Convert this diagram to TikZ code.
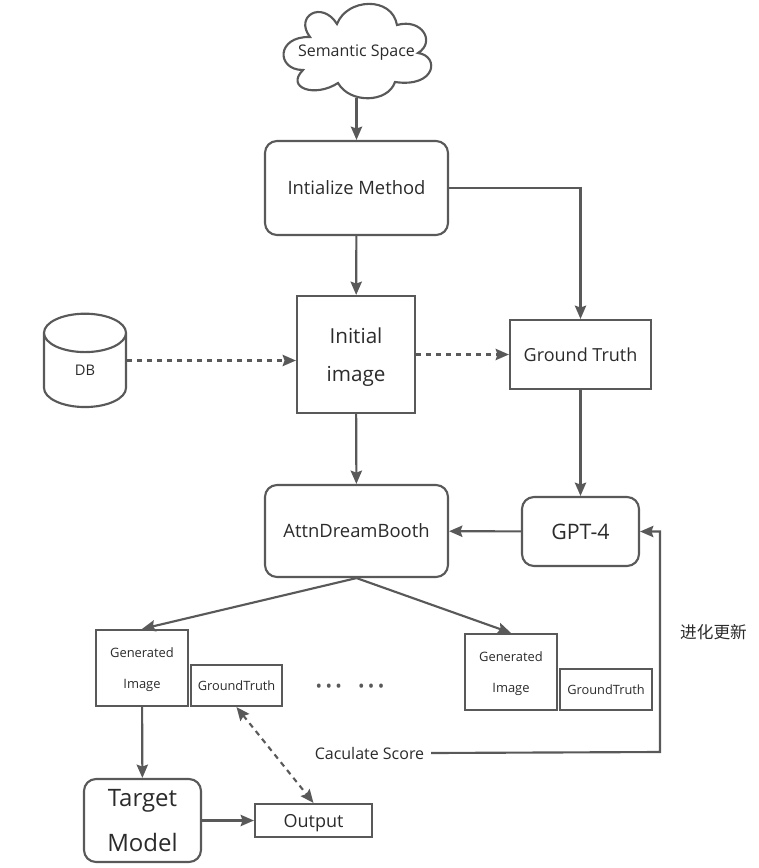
\documentclass[tikz,border=0pt]{standalone}
\usepackage{fontspec}
\setmainfont{Open Sans}
\newfontfamily\cjkfont{Noto Sans CJK SC}
\usetikzlibrary{arrows.meta,shapes.geometric}
\definecolor{linegray}{HTML}{595959}
\definecolor{textgray}{HTML}{2B2B2B}
\newcommand{\threedots}{\textbullet\hspace{2.6pt}\textbullet\hspace{2.6pt}\textbullet}
\tikzset{
  box/.style={draw=linegray,line width=1.6pt,inner sep=0pt,align=center,text=textgray,text depth=0pt},
  roundbox/.style={box,rounded corners=9pt},
  arrow/.style={draw=linegray,line width=1.6pt,-{Stealth[length=10pt,width=8.5pt,inset=1.5pt]}},
  dasharrow/.style={arrow,dash pattern=on 4pt off 3.5pt},
  bigtext/.style={font=\fontsize{13.8pt}{16pt}\selectfont},
  smalltext/.style={font=\fontsize{9.7pt}{23pt}\selectfont},
  midtext/.style={font=\fontsize{9.6pt}{12pt}\selectfont}
}
\begin{document}
\begin{tikzpicture}[x=0.75pt,y=-0.75pt]
  \useasboundingbox (0,0) rectangle (759,868);
  % cloud outline, its label sits in a plain node
  \draw[draw=linegray,line width=1.6pt] (337,24)
    .. controls (347,-2) and (392,-4) .. (397,25)
    .. controls (422,18) and (436,42) .. (418,53)
    .. controls (440,56) and (436,88) .. (395,82)
    .. controls (388,103) and (350,104) .. (338,83)
    .. controls (315,98) and (285,88) .. (303,70)
    .. controls (276,70) and (276,36) .. (310,37)
    .. controls (294,16) and (322,0) .. (337,24) -- cycle;
  \node[inner sep=0pt,text=textgray,text depth=0pt,font=\fontsize{12pt}{14pt}\selectfont,minimum width=111.75pt,minimum height=71.25pt] (space) at (356.5,50.5) {Semantic Space};
  % top of the flow
  \node[roundbox,bigtext,minimum width=137.25pt,minimum height=70.5pt] (method) at (356.5,188) {Intialize Method};
  \node[box,font=\fontsize{15.5pt}{29pt}\selectfont,minimum width=88.5pt,minimum height=87.75pt] (init) at (356,354.5) {Initial\\image};
  \node[box,font=\fontsize{13.5pt}{16pt}\selectfont,minimum width=105.75pt,minimum height=51.75pt] (gt) at (580.5,354.5) {Ground Truth};
  \node[cylinder,shape border rotate=90,aspect=1.9,box,font=\fontsize{11pt}{13pt}\selectfont,minimum width=61.5pt,minimum height=70pt] (db) at (85,370.5) {DB};
  % middle
  \node[roundbox,bigtext,minimum width=137.25pt,minimum height=69pt] (attn) at (356.5,531) {AttnDreamBooth};
  \node[roundbox,font=\fontsize{16pt}{19pt}\selectfont,minimum width=87.75pt,minimum height=51.75pt] (gpt) at (580.5,531.5) {GPT-4};
  % samples
  \node[box,smalltext,minimum width=69pt,minimum height=57pt] (genA) at (142,668) {Generated\\Image};
  \node[box,midtext,minimum width=68.25pt,minimum height=30.75pt] (truthA) at (236.5,685.5) {GroundTruth};
  \node[box,smalltext,minimum width=69pt,minimum height=57pt] (genB) at (511,672) {Generated\\Image};
  \node[box,midtext,minimum width=69pt,minimum height=30.75pt] (truthB) at (606,689.5) {GroundTruth};
  \node[text=linegray,inner sep=0pt,font=\fontsize{13pt}{15pt}\selectfont] (dots) at (350,688) {\threedots\hspace{12pt}\threedots};
  % bottom
  \node[roundbox,font=\fontsize{18pt}{33.5pt}\selectfont,minimum width=87.75pt,minimum height=62.25pt] (target) at (142.5,820.5) {Target\\Model};
  \node[box,font=\fontsize{13.5pt}{16pt}\selectfont,minimum width=87.75pt,minimum height=24.75pt] (output) at (313.5,820.5) {Output};
  \node[text=textgray,inner sep=0pt,font=\fontsize{12pt}{14pt}\selectfont] (score) at (369.5,753) {Caculate Score};
  \node[text=textgray,inner sep=0pt,font=\cjkfont\fontsize{12.5pt}{15pt}\selectfont] (update) at (713.5,632) {进化更新};
  \coordinate (turn) at (660,752);

  \draw[arrow] (space) -- (method);
  \draw[arrow] (method) -- (init);
  \draw[arrow] (method.east) -| (gt.north);
  \draw[dasharrow] ([yshift=7.5pt]db.east) -- ([yshift=7.5pt]db.east -| init.west);
  \draw[dasharrow] (init) -- (gt);
  \draw[arrow] (init) -- (attn);
  \draw[arrow] (gt) -- (gpt);
  \draw[arrow] (gpt) -- (attn);
  \draw[arrow] (attn.south) -- (genA.north);
  \draw[arrow] (attn.south) -- (genB.north);
  \draw[arrow] (genA) -- (target);
  \draw[arrow] (target) -- (output);
  \draw[dasharrow,{Stealth[length=10pt,width=8.5pt,inset=1.5pt]}-{Stealth[length=10pt,width=8.5pt,inset=1.5pt]}] (truthA.south) -- (output.north);
  \draw[arrow] ([xshift=5pt]score.east) -- (turn) |- (gpt.east);
\end{tikzpicture}
\end{document}
